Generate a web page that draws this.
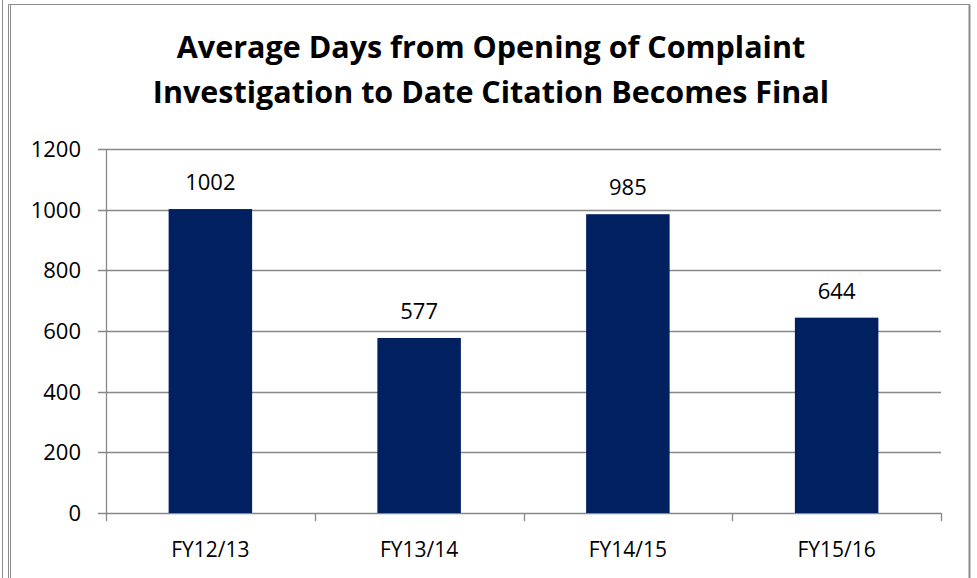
<!DOCTYPE html>
<html>
<head>
<meta charset="utf-8">
<script src="https://cdn.jsdelivr.net/npm/d3@7"></script>
<style>
  body { margin: 0; background: #fff; }
  text { font-family: "Open Sans", "Liberation Sans", sans-serif; }
</style>
</head>
<body>
<div id="chart"></div>
<script>
// values
const categories = ["FY12/13", "FY13/14", "FY14/15", "FY15/16"];
const avgDays = [1002, 577, 985, 644];
const yTicks = [0, 200, 400, 600, 800, 1000, 1200];
const titleLines = [
  "Average Days from Opening of Complaint",
  "Investigation to Date Citation Becomes Final"
];

const width = 977;
const height = 578;
const plot = { left: 106, right: 941, top: 149, bottom: 513 };

const svg = d3
  .select("#chart")
  .append("svg")
  .attr("width", width)
  .attr("height", height);

// page / chart frame lines
const frame = svg.append("g").attr("stroke", "#8c8c8c").attr("fill", "none");
frame.append("line").attr("x1", 2.5).attr("x2", 2.5).attr("y1", 0).attr("y2", height);
frame.append("line").attr("x1", 8.5).attr("x2", 8.5).attr("y1", 4.5).attr("y2", height);
frame.append("line").attr("x1", 10.5).attr("x2", 10.5).attr("y1", 4.5).attr("y2", height);
frame.append("line").attr("x1", 8.5).attr("x2", 969.5).attr("y1", 4.5).attr("y2", 4.5);
frame.append("line").attr("x1", 969.5).attr("x2", 969.5).attr("y1", 4.5).attr("y2", height)
  .attr("stroke-width", 2);

const x = d3
  .scaleBand()
  .domain(categories)
  .range([plot.left, plot.right])
  .paddingInner(0.6)
  .paddingOuter(0.3);

const y = d3
  .scaleLinear()
  .domain([0, 1200])
  .range([plot.bottom, plot.top]);

// gridlines
svg
  .append("g")
  .selectAll("line")
  .data(yTicks)
  .enter()
  .append("line")
  .attr("x1", plot.left - 8)
  .attr("x2", plot.right)
  .attr("y1", (d) => Math.round(y(d)) + 0.5)
  .attr("y2", (d) => Math.round(y(d)) + 0.5)
  .attr("stroke", "#888")
  .attr("stroke-width", 1.3);

// y tick labels
svg
  .append("g")
  .selectAll("text")
  .data(yTicks)
  .enter()
  .append("text")
  .attr("x", plot.left - 25)
  .attr("y", (d) => y(d))
  .attr("dy", "0.36em")
  .attr("text-anchor", "end")
  .attr("font-size", 22)
  .attr("fill", "#000")
  .text((d) => d);

// bars
svg
  .append("g")
  .selectAll("rect")
  .data(avgDays)
  .enter()
  .append("rect")
  .attr("x", (d, i) => x(categories[i]))
  .attr("width", x.bandwidth())
  .attr("y", (d) => y(d))
  .attr("height", (d) => y(0) - y(d))
  .attr("fill", "#002060");

// data labels
svg
  .append("g")
  .selectAll("text")
  .data(avgDays)
  .enter()
  .append("text")
  .attr("x", (d, i) => x(categories[i]) + x.bandwidth() / 2)
  .attr("y", (d) => y(d) - 19)
  .attr("text-anchor", "middle")
  .attr("font-size", 22)
  .attr("fill", "#000")
  .text((d) => d);

// y axis line
svg
  .append("line")
  .attr("x1", plot.left + 0.5)
  .attr("x2", plot.left + 0.5)
  .attr("y1", plot.top)
  .attr("y2", plot.bottom + 8)
  .attr("stroke", "#888")
  .attr("stroke-width", 1.3);

// category boundary ticks
const step = (plot.right - plot.left) / categories.length;
svg
  .append("g")
  .selectAll("line")
  .data(d3.range(1, categories.length + 1))
  .enter()
  .append("line")
  .attr("x1", (i) => Math.round(plot.left + i * step) + 0.5)
  .attr("x2", (i) => Math.round(plot.left + i * step) + 0.5)
  .attr("y1", plot.bottom)
  .attr("y2", plot.bottom + 8)
  .attr("stroke", "#888")
  .attr("stroke-width", 1.3);

// category labels
svg
  .append("g")
  .selectAll("text")
  .data(categories)
  .enter()
  .append("text")
  .attr("x", (d) => x(d) + x.bandwidth() / 2)
  .attr("y", 557)
  .attr("text-anchor", "middle")
  .attr("font-size", 21)
  .attr("fill", "#000")
  .text((d) => d);

// title
svg
  .append("g")
  .selectAll("text")
  .data(titleLines)
  .enter()
  .append("text")
  .attr("x", 491)
  .attr("y", (d, i) => 58 + i * 45)
  .attr("text-anchor", "middle")
  .attr("font-size", 30.5)
  .attr("font-weight", "bold")
  .attr("fill", "#000")
  .text((d) => d);
</script>
</body>
</html>
